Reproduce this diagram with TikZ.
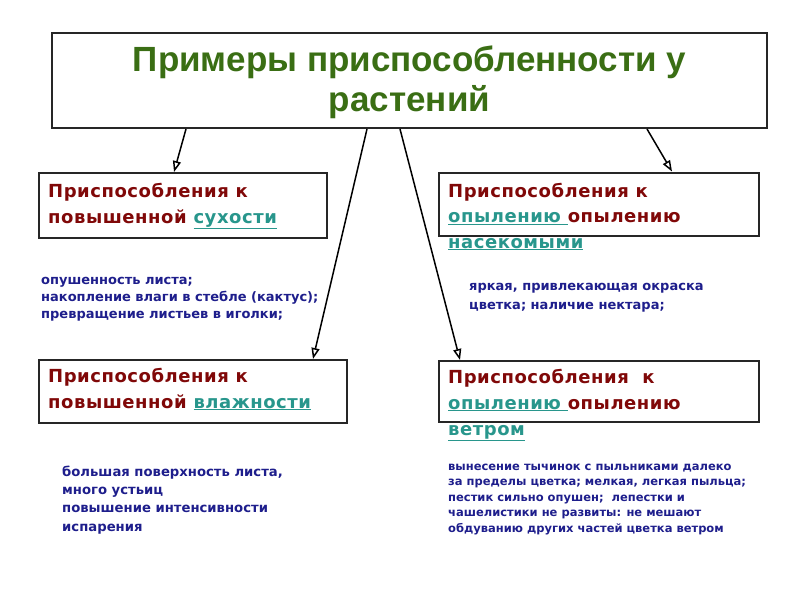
\documentclass[tikz,border=0pt]{standalone}
\usepackage{fontspec}
\setmainfont{Liberation Sans}
\newfontfamily\boxfont{DejaVu Sans}[LetterSpace=3]
\newfontfamily\notefont{DejaVu Sans}
\usetikzlibrary{arrows.meta}
\definecolor{titlegreen}{RGB}{58,110,20}
\definecolor{headred}{RGB}{128,8,8}
\definecolor{linkteal}{RGB}{40,150,140}
\definecolor{notenavy}{RGB}{30,30,140}
\newcommand{\lnk}[1]{\textcolor{linkteal}{\underline{#1}}}

\tikzset{
	frame/.style={draw=black!85, line width=2pt, inner sep=0pt},
	heading/.style={anchor=base west, inner sep=0pt, align=left, text=headred,
		font=\boxfont\bfseries\fontsize{18}{25.5}\selectfont},
	note/.style={anchor=base west, inner sep=0pt, align=left, text=notenavy,
		font=\notefont\bfseries\fontsize{13}{16.7}\selectfont},
	link/.style={line width=1.5pt, -{Triangle[open, length=11pt, width=8pt]}},
}

\begin{document}
\begin{tikzpicture}[x=1pt, y=-1pt]
		%%%%% START %%%%%
		\useasboundingbox (0,0) rectangle (800,600);
		\fill[white] (0,0) rectangle (800,600);
		
		\node[frame, minimum width=715pt, minimum height=95pt] (title) at (409.5, 80.5) {};
		\node[text=titlegreen, align=center, inner sep=0pt, yshift=-2pt,
			font=\bfseries\fontsize{35}{40}\selectfont] (titletext) at (title) {Примеры приспособленности у\\растений};
		
		\node[frame, minimum width=288pt, minimum height=65pt] (dry) at (183, 205.5) {};
		\node[frame, minimum width=320pt, minimum height=63pt] (insect) at (599, 204) {};
		\node[frame, minimum width=308pt, minimum height=63pt] (wet) at (193, 391.5) {};
		\node[frame, minimum width=320pt, minimum height=61pt] (wind) at (599, 391.5) {};
		
		% last baseline of each block
		\node[heading] (dryhead) at (48, 223) {Приспособления к\\повышенной \lnk{сухости}};
		\node[heading] (insecthead) at (448, 248) {Приспособления к\\\lnk{опылению\ }опылению\\\lnk{насекомыми}};
		\node[heading] (wethead) at (48, 408) {Приспособления к\\повышенной \lnk{влажности}};
		\node[heading, font=\boxfont\bfseries\fontsize{18}{26}\selectfont] (windhead) at (448, 435) {Приспособления\ \ к\\\lnk{опылению\ }опылению\\\lnk{ветром}};
		
		\node[note] (drynote) at (41, 318) {опушенность листа;\\накопление влаги в стебле (кактус);\\превращение листьев в иголки;};
		\node[note, font=\notefont\bfseries\fontsize{13}{19}\selectfont] (insectnote) at (469, 309) {яркая, привлекающая окраска\\цветка; наличие нектара;};
		\node[note, font=\notefont\bfseries\fontsize{13.2}{18.3}\selectfont] (wetnote) at (62, 531) {большая поверхность листа,\\много устьиц\\повышение интенсивности\\испарения};
		\node[note, font=\notefont\bfseries\fontsize{11.5}{15.5}\selectfont] (windnote) at (448, 532) {вынесение тычинок с пыльниками далеко\\за пределы цветка; мелкая, легкая пыльца;\\пестик сильно опушен;\ \ лепестки и\\чашелистики не развиты: не мешают\\обдуванию других частей цветка ветром};
		
		\draw[link] ([xshift=-223.5pt]title.south) -- ([xshift=-9pt]dry.north);
		\draw[link] ([xshift=-42.5pt]title.south) -- ([xshift=120pt]wet.north);
		\draw[link] ([xshift=-9.5pt]title.south) -- ([xshift=-139pt]wind.north);
		\draw[link] ([xshift=237.5pt]title.south) -- ([xshift=73pt]insect.north);
		%%%%% END %%%%%
\end{tikzpicture}
\end{document}
